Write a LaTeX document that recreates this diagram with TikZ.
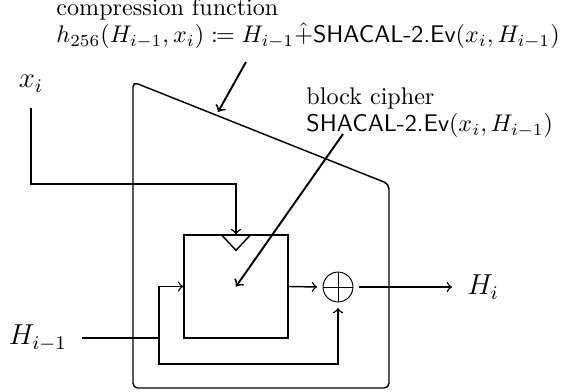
\documentclass[tikz,border=0pt]{standalone}
\usepackage{mathtools}
\usetikzlibrary{calc}
\begin{document}
\begin{tikzpicture}[x=0.415pt,y=-0.415pt,
  ln/.style={semithick},
  arr/.style={semithick,->},
  ptr/.style={thick,->},
  big/.style={font=\large,inner sep=3.33pt,outer sep=3pt},
  txt/.style={inner sep=0pt,anchor=base west},
  boxnode/.style={draw,semithick,rectangle,minimum width=43.2pt,minimum height=42.7pt,inner sep=0pt},
  xornode/.style={draw,circle,minimum size=12.4pt,inner sep=0pt,outer sep=2.5pt,
    path picture={\draw (path picture bounding box.north) -- (path picture bounding box.south)
      (path picture bounding box.west) -- (path picture bounding box.east);}}]
\useasboundingbox (0,0) rectangle (568,392);
% outer compression-function outline
\coordinate (o1) at (133,82);
\coordinate (o2) at (389,184);
\coordinate (o3) at (389,388);
\coordinate (o4) at (133,388);
\draw[ln,rounded corners=2pt] (o1) -- (o2) -- (o3) -- (o4) -- cycle;
% labels
\node[txt] (cf1) at (56,16) {compression function};
\node[txt] (cf2) at (56,43) {$h_{256}(H_{i-1},x_i) \coloneqq H_{i-1}\hat{+}\textsf{SHACAL-2.Ev}(x_i,H_{i-1})$};
\node[txt] (bc1) at (306,105) {block cipher};
\node[txt] (bc2) at (306,132) {\textsf{SHACAL-2.Ev}$(x_i,H_{i-1})$};
% main nodes
\node[boxnode] (blk) at (236,286.5) {};
\node[xornode] (xor) at (338,287) {};
\node[big,anchor=base] (xi) at (31,88) {$x_i$};
\node[big,anchor=east] (Him) at (82,338) {$H_{i-1}$};
\node[big,anchor=west] (Hi) at (452,287) {$H_i$};
% triangle on top of block
\draw[ln] ($(blk.north)+(-15,0)$) -- ($(blk.north)+(0,16)$) -- ($(blk.north)+(15,0)$);
% connectors
\coordinate (k1) at (236,184);
\draw[arr] (xi.south) |- (k1) -- (blk.north);
\coordinate (br) at (159,338);
\draw[ln] (Him.east) -- (br);
\draw[arr] (br) |- (blk.west);
\coordinate (bb) at (159,364);
\draw[arr] (br) -- (bb) -| (xor.south);
\draw[arr] (blk.east) -- (xor.west);
\draw[arr] (xor.east) -- (Hi.west);
% pointers
\coordinate (cfp) at (246,62);
\coordinate (cft) at (218,112);
\draw[ptr] (cfp) -- (cft);
\coordinate (bcp) at (343,134);
\draw[ptr] (bcp) -- (blk.center);
\end{tikzpicture}
\end{document}
